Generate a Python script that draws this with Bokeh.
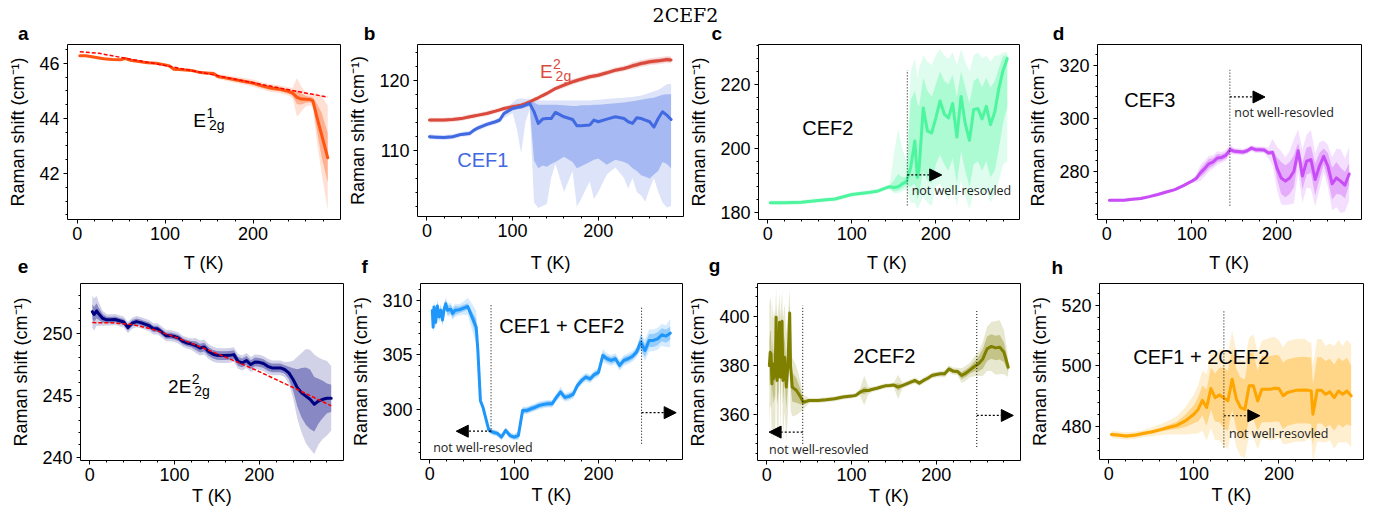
from bokeh.plotting import figure
from bokeh.layouts import column, row
from bokeh.models import Range1d, FixedTicker, Arrow, NormalHead
from bokeh.core.properties import value
from bokeh.embed import file_html
from bokeh.resources import INLINE

FONT = "Liberation Sans"
NOTE_FONT = "Open Sans"
TITLE_FONT = "DejaVu Serif"
NOTE = "not well-resovled"
YLABEL = "Raman shift (cm\u207b\u00b9)"
XLABEL = "T (K)"
TITLE = "2CEF2"

X_MAJOR = [0, 100, 200]
X_MINOR = [20, 40, 60, 80, 120, 140, 160, 180, 220, 240, 260, 280]

# ---------------- panel a : E1_2g ----------------
A_T = [3, 10, 20, 30, 40, 50, 55, 60, 70, 80, 90, 100, 105, 110, 120, 130, 140, 150, 155, 160,
       170, 180, 190, 200, 210, 220, 230, 240, 245, 250, 255, 260, 265, 268, 273, 278, 285]
A_Y = [46.27, 46.27, 46.22, 46.16, 46.14, 46.13, 46.17, 46.11, 46.06, 46.02, 46.00, 45.94, 45.90, 45.78,
       45.76, 45.74, 45.66, 45.64, 45.63, 45.52, 45.46, 45.40, 45.34, 45.28, 45.18, 45.10, 45.06, 44.98,
       44.92, 44.76, 44.70, 44.69, 44.68, 44.64, 44.01, 43.41, 42.57]
A_ERR_IN = [0.02, 0.02, 0.02, 0.02, 0.02, 0.02, 0.02, 0.02, 0.02, 0.02, 0.02, 0.02, 0.02, 0.03, 0.03,
            0.03, 0.03, 0.03, 0.04, 0.05, 0.05, 0.06, 0.06, 0.07, 0.07, 0.07, 0.08, 0.08, 0.10, 0.25,
            0.20, 0.12, 0.10, 0.12, 0.50, 0.80, 0.90]
A_ERR_OUT = [0.04, 0.04, 0.04, 0.04, 0.04, 0.04, 0.04, 0.04, 0.04, 0.04, 0.04, 0.04, 0.05, 0.05, 0.05,
             0.05, 0.05, 0.06, 0.07, 0.09, 0.10, 0.11, 0.12, 0.13, 0.13, 0.14, 0.14, 0.15, 0.18, 0.70,
             0.45, 0.25, 0.20, 0.25, 0.90, 1.40, 1.90]
A_FIT_T = [3, 25, 50, 100, 150, 200, 250, 285]
A_FIT_Y = [46.42, 46.36, 46.21, 45.92, 45.61, 45.29, 44.98, 44.77]

# ---------------- panel b : E2_2g and CEF1 ----------------
B_T = [3, 10, 20, 30, 40, 50, 55, 60, 70, 80, 85, 90, 100, 105, 110, 115, 120, 125, 130, 135, 140, 145,
       150, 160, 170, 175, 180, 190, 195, 200, 210, 220, 230, 235, 240, 245, 250, 255, 260, 265, 270,
       275, 280, 285]
B_E2G = [114.29, 114.29, 114.29, 114.38, 114.5, 114.76, 114.88, 115.0, 115.24, 115.57, 115.75, 115.95,
         116.19, 116.3, 116.43, 116.65, 116.9, 117.2, 117.48, 117.8, 118.1, 118.45, 118.8, 119.29, 119.76,
         119.95, 120.14, 120.48, 120.6, 120.71, 121.05, 121.43, 121.67, 121.85, 122.05, 122.2, 122.38,
         122.5, 122.62, 122.7, 122.76, 122.85, 122.95, 122.9]
B_E2G_ERR_IN = [0.2, 0.2, 0.2, 0.2, 0.2, 0.2, 0.2, 0.2, 0.2, 0.2, 0.2, 0.2, 0.2, 0.2, 0.2, 0.2, 0.2, 0.2,
                0.2, 0.2, 0.2, 0.2, 0.2, 0.25, 0.25, 0.25, 0.25, 0.25, 0.25, 0.25, 0.25, 0.25, 0.25,
                0.25, 0.3, 0.3, 0.3, 0.3, 0.3, 0.3, 0.3, 0.3, 0.3, 0.3]
B_E2G_ERR_OUT = [0.35, 0.35, 0.35, 0.35, 0.35, 0.35, 0.35, 0.35, 0.35, 0.35, 0.35, 0.35, 0.35, 0.35,
                 0.35, 0.35, 0.35, 0.35, 0.35, 0.35, 0.35, 0.35, 0.35, 0.4, 0.4, 0.4, 0.4, 0.4, 0.4,
                 0.4, 0.4, 0.4, 0.4, 0.4, 0.5, 0.5, 0.5, 0.5, 0.5, 0.5, 0.5, 0.5, 0.5, 0.5]
B_CEF1 = [111.9, 111.85, 111.8, 111.9, 112.24, 112.38, 112.86, 113.19, 113.67, 114.05, 114.3, 115.24,
          115.95, 116.1, 116.19, 116.43, 116.67, 115.5, 113.81, 114.43, 114.52, 114.5, 115.38, 114.76,
          114.38, 113.48, 113.48, 113.57, 114.29, 114.05, 114.43, 114.76, 114.52, 114.05, 113.81,
          114.62, 114.52, 114.29, 114.05, 113.29, 114.52, 115.48, 115.0, 114.38]
B_CEF1_IN_LO = [111.7, 111.65, 111.6, 111.7, 112.04, 112.18, 112.66, 112.99, 113.47, 113.85, 114.1,
                115.0, 115.7, 115.85, 115.9, 116.1, 116.3, 108.5, 107.4, 107.8, 107.6, 108.0, 108.3,
                109.05, 108.3, 107.4, 107.7, 108.3, 108.6, 108.8, 107.9, 108.6, 108.3, 108.0, 107.4,
                107.0, 106.4, 106.2, 105.95, 106.5, 107.0, 108.3, 108.0, 107.4]
B_CEF1_IN_HI = [112.1, 112.05, 112.0, 112.1, 112.44, 112.58, 113.06, 113.39, 113.87, 114.25, 114.5,
                115.5, 116.2, 116.35, 116.5, 116.75, 117.0, 116.8, 116.5, 116.5, 116.5, 116.5, 116.5,
                116.4, 116.3, 116.3, 116.4, 116.4, 116.5, 116.5, 116.6, 116.7, 116.8, 116.9, 117.0,
                117.1, 117.2, 117.3, 117.4, 117.5, 117.7, 117.9, 118.0, 118.0]
B_CEF1_OUT_LO = [111.55, 111.5, 111.45, 111.55, 111.9, 112.0, 112.5, 112.8, 113.3, 113.7, 113.9, 114.6,
                 115.3, 113.0, 109.5, 114.0, 115.8, 102.5, 101.7, 102.0, 102.3, 106.0, 108.0, 104.0,
                 107.0, 101.9, 103.0, 105.5, 103.0, 104.0, 106.5, 107.5, 106.0, 104.5, 106.0, 104.0,
                 103.5, 102.6, 104.5, 106.0, 104.0, 102.5, 101.8, 102.0]
B_CEF1_OUT_HI = [112.25, 112.2, 112.15, 112.25, 112.6, 112.75, 113.2, 113.55, 114.05, 114.4, 114.7,
                 115.7, 116.8, 117.3, 117.4, 117.3, 117.3, 117.2, 117.1, 117.1, 117.1, 117.1, 117.1,
                 117.1, 117.1, 117.1, 117.1, 117.1, 117.15, 117.2, 117.3, 117.4, 117.5, 117.55, 117.6,
                 117.7, 117.8, 118.0, 118.2, 118.4, 118.6, 119.0, 119.4, 119.5]

# ---------------- panel c : CEF2 ----------------
C_T = [3, 20, 40, 60, 80, 100, 120, 130, 140, 145, 150, 155, 160, 165, 170, 175, 178, 180, 185, 190,
       195, 200, 205, 210, 215, 220, 225, 230, 235, 240, 245, 250, 255, 260, 265, 270, 275, 280, 285]
C_Y = [183.0, 183.0, 183.2, 183.7, 184.2, 185.6, 186.2, 186.6, 187.6, 188.0, 187.8, 188.0, 188.9, 189.6,
       194.0, 202.3, 190.9, 193.5, 212.6, 205.4, 204.8, 209.5, 214.8, 210.7, 209.5, 214.0, 203.5, 216.2,
       207.6, 202.5, 212.1, 212.4, 209.2, 213.1, 207.4, 211.3, 218.8, 224.4, 228.0]
C_IN_LO = [182.6, 182.6, 182.8, 183.3, 183.8, 185.2, 185.8, 186.2, 187.2, 187.6, 186.5, 186.8, 187.5,
           188.5, 188, 189, 184, 186, 193, 190, 189, 195, 198, 195, 193, 197, 189, 199, 193, 188, 195,
           196, 193, 196, 191, 193, 200, 208, 213]
C_IN_HI = [183.4, 183.4, 183.6, 184.1, 184.6, 186.0, 186.6, 187.0, 188.0, 188.4, 190, 192, 191, 191,
           215, 218, 214, 213, 222, 218, 216, 220, 224, 221, 220, 223, 216, 224, 219, 214, 221, 222,
           219, 222, 219, 221, 225, 229, 229]
C_OUT_LO = [182.3, 182.3, 182.5, 183.0, 183.5, 184.9, 185.5, 185.9, 186.9, 187.3, 186.0, 186.0, 186.5,
            187.5, 183, 183, 181, 182, 185, 183, 182, 188, 189, 186, 184, 188, 182, 190, 185, 181, 186,
            188, 185, 187, 183, 186, 190, 195, 196]
C_OUT_HI = [183.7, 183.7, 183.9, 184.4, 184.9, 186.3, 186.9, 187.3, 188.3, 188.7, 198, 206, 200, 196,
            224, 228, 222, 225, 229, 227, 226, 229, 231, 229, 228, 230, 226, 231, 227, 224, 229, 230,
            228, 229, 227, 229, 229, 230, 230]

# ---------------- panel d : CEF3 ----------------
D_T = [3, 20, 30, 40, 50, 60, 70, 80, 90, 100, 105, 110, 115, 120, 125, 130, 135, 140, 145, 150, 160,
       165, 170, 175, 180, 185, 190, 195, 200, 205, 210, 215, 220, 225, 230, 235, 240, 245, 250, 255,
       260, 265, 270, 275, 280, 285]
D_Y = [269.2, 269.2, 269.6, 269.9, 270.6, 271.4, 272.3, 273.2, 274.7, 276.4, 277.4, 279.5, 281.1, 282.9,
       283.6, 285.1, 285.3, 286.1, 288.2, 287.6, 287.3, 287.8, 288.8, 288.2, 288.2, 288.1, 287.0, 287.2,
       281.4, 277.6, 276.4, 277.6, 280.1, 287.8, 278.3, 283.9, 284.5, 277.0, 282.0, 285.7, 282.0, 275.4,
       277.6, 276.4, 274.9, 279.1]
D_ERR_IN = [0.3, 0.3, 0.3, 0.3, 0.3, 0.3, 0.3, 0.3, 0.3, 0.3, 0.6, 1.5, 1.8, 1.8, 1.5, 1.5, 1.2, 1.2,
            1.0, 0.8, 0.8, 0.8, 0.8, 0.8, 0.8, 0.8, 0.8, 0.8, 4, 6, 6, 6, 6, 3, 5, 5, 5, 6, 5, 3, 5, 6,
            6, 5, 5, 4]
D_ERR_OUT = [0.6, 0.6, 0.6, 0.6, 0.6, 0.6, 0.6, 0.6, 0.6, 0.6, 1.5, 3, 3, 3, 2.5, 2.5, 2, 2, 1.8, 1.2,
             1.2, 1.2, 1.2, 1.2, 1.2, 1.2, 2, 5, 8, 10, 9, 10, 12, 8, 10, 10, 11, 10, 9, 6, 8, 10, 11,
             12, 10, 10]

# ---------------- panel e : 2E2_2g ----------------
E_T = [3, 5, 8, 10, 15, 20, 25, 30, 35, 40, 45, 50, 55, 60, 70, 75, 80, 85, 90, 95, 100, 105, 110,
       115, 120, 125, 130, 135, 140, 145, 150, 155, 160, 165, 170, 175, 180, 185, 190, 195, 200, 205,
       210, 215, 220, 225, 230, 235, 240, 245, 250, 255, 260, 265, 270, 275, 280, 285]
E_Y = [251.73, 251.5, 251.8, 251.6, 251.2, 251.07, 251.07, 251.1, 251.0, 250.9, 250.45, 250.8, 250.93,
       250.85, 250.6, 250.35, 250.35, 250.08, 249.8, 249.8, 249.73, 249.6, 249.33, 249.2, 249.12, 249.0,
       248.8, 248.88, 248.53, 248.32, 248.21, 248.19, 248.19, 248.21, 248.27, 247.73, 247.6, 247.8,
       247.47, 247.68, 247.65, 247.55, 247.33, 247.2, 247.2, 247.2, 247.07, 246.8, 246.27, 245.6, 245.2,
       244.93, 244.67, 244.27, 244.53, 244.67, 244.75, 244.75]
E_ERR_IN = [0.6, 0.6, 0.6, 0.5, 0.35,
            0.25, 0.25, 0.25, 0.25, 0.25, 0.25, 0.25, 0.25, 0.25, 0.25, 0.25, 0.25, 0.25, 0.25, 0.25,
            0.25, 0.25, 0.25, 0.25, 0.25,
            0.35, 0.35, 0.35, 0.35, 0.35, 0.35, 0.35, 0.35, 0.35, 0.35, 0.35, 0.35, 0.35, 0.35, 0.35,
            0.35, 0.35, 0.35, 0.35, 0.35, 0.35, 0.35,
            0.5, 0.9, 1.5, 2.0, 2.3, 2.4, 2.2, 1.8, 1.5, 1.2, 1.1]
E_ERR_OUT = [1.3, 1.3, 1.2, 1.0, 0.6,
             0.45, 0.45, 0.45, 0.45, 0.45, 0.45, 0.45, 0.45, 0.45, 0.45, 0.45, 0.45, 0.45, 0.45, 0.45,
             0.45, 0.45, 0.45, 0.45, 0.45,
             0.6, 0.6, 0.6, 0.6, 0.6, 0.6, 0.6, 0.6, 0.6, 0.6, 0.6, 0.6, 0.6, 0.6, 0.6, 0.6, 0.6, 0.6,
             0.6, 0.6, 0.6, 0.6,
             0.9, 1.5, 2.5, 3.2, 3.8, 4.0, 4.0, 3.5, 3.2, 3.0, 2.6]
E_FIT_T = [3, 25, 50, 75, 100, 125, 150, 175, 200, 225, 250, 285]
E_FIT_Y = [250.85, 250.84, 250.7, 250.3, 249.7, 249.05, 248.35, 247.65, 246.9, 246.1, 245.3, 244.15]

# ---------------- panel f : CEF1 + CEF2 ----------------
F_T = [3, 4, 5, 7, 9, 11, 13, 15, 17, 19, 21, 25, 27, 30, 35, 40, 45, 50, 55, 57, 60, 63, 67, 70, 75,
       80, 85, 90, 95, 100, 105, 110, 115, 120, 125, 130, 135, 140, 145, 150, 155, 160, 165, 170, 175,
       180, 185, 190, 195, 200, 205, 210, 215, 220, 225, 230, 235, 240, 245, 250, 255, 260, 265, 270,
       275, 280, 285]
F_Y = [309.08, 307.55, 309.4, 308.0, 309.5, 308.5, 309.1, 308.2, 309.2, 309.7, 309.1, 309.2, 308.8,
       309.1, 309.15, 309.3, 309.45, 308.5, 307.55, 305.4, 300.8, 300.2, 299.0, 298.1, 297.9, 297.8,
       297.46, 298.07, 297.6, 297.46, 297.6, 299.9, 299.9, 300.06, 300.2, 300.37, 300.46, 300.52,
       300.52, 301.1, 301.6, 301.1, 301.2, 301.4, 302.2, 302.66, 302.97, 302.8, 303.2, 303.4, 304.95,
       304.65, 304.5, 304.65, 304.04, 304.5, 304.65, 304.86, 305.26, 306.18, 305.41, 306.33, 306.33,
       306.48, 306.85, 306.73, 307.0]
F_ERR_IN = [0.4, 0.4, 0.4, 0.4, 0.4, 0.4, 0.4, 0.4, 0.4, 0.4, 0.4, 0.4, 0.4, 0.4,
            0.3, 0.3, 0.3, 0.5, 0.8, 0.5,
            0.2, 0.2, 0.2, 0.2, 0.2, 0.2, 0.2, 0.2, 0.2, 0.2, 0.3,
            0.25, 0.25, 0.25, 0.25, 0.25, 0.25, 0.25, 0.25, 0.25, 0.25, 0.25, 0.25, 0.25, 0.25, 0.25,
            0.25, 0.25, 0.25, 0.25,
            0.3, 0.3, 0.3, 0.3, 0.3, 0.3, 0.3, 0.3, 0.3,
            0.6, 0.6, 0.6, 0.6, 0.6, 0.6, 0.6, 0.6]
F_ERR_OUT = [0.6, 0.6, 0.6, 0.6, 0.6, 0.6, 0.6, 0.6, 0.6, 0.6, 0.6, 0.6, 0.6, 0.6,
             0.5, 0.6, 0.8, 1.2, 1.5, 0.8,
             0.3, 0.3, 0.3, 0.3, 0.3, 0.3, 0.3, 0.3, 0.3, 0.3, 0.4,
             0.35, 0.35, 0.35, 0.35, 0.35, 0.35, 0.35, 0.35, 0.35, 0.5,
             0.4, 0.4, 0.4, 0.4, 0.4, 0.4, 0.4, 0.4, 0.4,
             0.6, 0.5, 0.5, 0.5, 0.5, 0.5, 0.5, 0.5, 0.5,
             0.8, 1.0, 1.0, 1.0, 1.0, 1.0, 1.0, 1.3]

# ---------------- panel g : 2CEF2 ----------------
G_T = [3, 4, 5, 6, 7, 8, 10, 11, 12, 14, 15, 16, 18, 19, 21, 23, 25, 27, 28, 30, 35, 40, 43, 50, 60,
       70, 80, 90, 100, 105, 110, 115, 120, 125, 130, 135, 140, 145, 150, 155, 160, 165, 170, 175, 180,
       185, 190, 195, 200, 205, 210, 215, 220, 225, 230, 235, 240, 245, 250, 255, 260, 265, 270, 275,
       280, 285]
G_Y = [380.0, 385.4, 384.8, 372.5, 380.7, 374.6, 378.0, 399.7, 373.9, 379.3, 397.7, 375.2, 398.1, 373.9,
       383.4, 371.2, 380.7, 401.4, 380.0, 371.2, 369.8, 367.1, 365.0, 365.7, 365.7, 366.0, 366.4, 367.1,
       367.5, 367.8, 369.1, 369.8, 369.8, 370.3, 370.7, 371.2, 371.7, 371.8, 372.0, 371.2, 371.8, 372.5,
       373.2, 373.9, 372.8, 373.9, 374.8, 375.9, 376.3, 376.6, 376.6, 378.6, 377.7, 377.6, 375.9, 376.9,
       378.2, 379.6, 380.7, 382.7, 386.8, 387.8, 387.2, 387.5, 385.4, 379.3]
G_ERR_IN = [10, 9, 9, 10, 10, 10, 10, 5, 10, 10, 5, 10, 5, 10, 9, 9, 8, 4, 8,
            6, 5, 3, 1,
            0.5, 0.5, 0.5, 0.5, 0.5, 0.5, 0.5, 0.6, 1.5, 0.6,
            0.5, 0.5, 0.5, 0.5, 0.5, 0.5, 1.5,
            0.6, 0.6, 0.6, 0.6, 0.6, 0.6, 0.6, 0.6, 0.6, 0.6,
            0.8, 0.8, 0.8, 0.8,
            1.5, 1.5, 1.5, 2, 3, 4, 5, 5, 5, 5, 4, 2]
G_ERR_OUT = [25, 22, 22, 25, 25, 25, 25, 12, 25, 25, 12, 25, 12, 25, 22, 22, 20, 10, 18,
             12, 10, 6, 3,
             1.0, 1.0, 1.0, 1.0, 1.0, 1.0, 1.0, 1.5, 6, 1.5,
             1.0, 1.0, 1.0, 1.0, 1.0, 1.0, 5,
             1.2, 1.2, 1.2, 1.2, 1.2, 1.2, 1.2, 1.2, 1.2, 1.2,
             1.5, 1.5, 1.5, 1.5,
             3, 3, 3, 4, 5, 7, 9, 10, 11, 11, 9, 4]

# ---------------- panel h : CEF1 + 2CEF2 ----------------
H_T = [3, 10, 20, 30, 40, 50, 60, 70, 80, 90, 100, 105, 110, 115, 120, 125, 130, 135, 140, 145, 150,
       155, 160, 165, 170, 175, 180, 190, 195, 200, 205, 210, 220, 230, 235, 238, 240, 245, 250, 255,
       260, 265, 270, 275, 280, 285]
H_Y = [477.3, 477.1, 476.8, 477.0, 477.6, 478.1, 478.8, 479.6, 480.3, 481.8, 484.0, 485.6, 488.6, 486.2,
       492.5, 489.5, 490.4, 489.5, 488.4, 495.6, 489.0, 486.2, 485.6, 493.4, 493.4, 488.4, 492.3, 492.3,
       492.6, 492.5, 490.1, 491.2, 491.9, 492.0, 491.9, 491.7, 484.0, 491.9, 491.9, 490.6, 491.4, 489.5,
       491.7, 490.6, 491.7, 490.1]
H_ERR_IN = [0.6, 0.6, 0.6, 0.6, 0.6, 0.6, 0.6,
            0.8, 1.2, 2, 3, 4, 5, 6, 7, 8, 9, 10, 10, 10,
            10, 10, 10, 11, 11, 10, 11, 11, 11, 11, 11, 11, 11, 11, 11, 11, 10, 11, 11, 11, 11, 11, 11,
            11, 11, 10]
H_ERR_OUT = [1.2, 1.2, 1.2, 1.2, 1.2, 1.5, 1.8,
             2.2, 3, 4.5, 6.5, 8, 10, 11, 13, 14, 15, 16, 16, 16,
             16, 16, 16, 16, 17, 16, 16, 17, 17, 16, 16, 17, 17, 17, 16, 16, 16, 17, 17, 16, 16, 17,
             17, 16, 17, 17]

# ---------------- annotations (threshold temperatures, arrows) ----------------
C_VLINE = (166, 182.2, 224.4)
C_ARROW = (166, 207, 191.7)
D_VLINE = (144.7, 267.2, 318.2)
D_ARROW = (144.7, 186, 308.0)
F_VLINES = [(72.6, 297.9, 309.7), (251, 296.85, 309.4)]
F_ARROWS = [(72.6, 31.4, 298.0), (251, 292, 299.7)]
G_VLINES = [(42.4, 348.0, 404.5), (247.9, 346.7, 402.5)]
G_ARROWS = [(42.4, 2.7, 352.8), (247.9, 291, 359.6)]
H_VLINE = (135.3, 473.0, 518.3)
H_ARROW = (135.3, 177.6, 483.5)


def check(*arrs):
    n = len(arrs[0])
    for a in arrs:
        assert len(a) == n, (n, len(a))


check(A_T, A_Y, A_ERR_IN, A_ERR_OUT)
check(A_FIT_T, A_FIT_Y)
check(B_T, B_E2G, B_E2G_ERR_IN, B_E2G_ERR_OUT, B_CEF1, B_CEF1_IN_LO, B_CEF1_IN_HI, B_CEF1_OUT_LO, B_CEF1_OUT_HI)
check(C_T, C_Y, C_IN_LO, C_IN_HI, C_OUT_LO, C_OUT_HI)
check(D_T, D_Y, D_ERR_IN, D_ERR_OUT)
check(E_T, E_Y, E_ERR_IN, E_ERR_OUT)
check(E_FIT_T, E_FIT_Y)
check(F_T, F_Y, F_ERR_IN, F_ERR_OUT)
check(G_T, G_Y, G_ERR_IN, G_ERR_OUT)
check(H_T, H_Y, H_ERR_IN, H_ERR_OUT)

X_RANGE = (-11.0, 299.5)
TICK_PX = "18px"
LABEL_PX = "18px"
PAGE_W = 1371


def panel(w, h, bl, br, bt, bb, yr, ymaj, ymin, xlabel=True):
    p = figure(width=w, height=h, output_backend="svg", toolbar_location=None,
               x_range=Range1d(*X_RANGE), y_range=Range1d(*yr), frame_align=False,
               min_border_left=bl, min_border_right=br, min_border_top=bt, min_border_bottom=bb)
    p.xgrid.visible = False
    p.ygrid.visible = False
    p.outline_line_color = "black"
    p.outline_line_width = 1
    p.outline_line_alpha = 1.0
    p.background_fill_color = "white"
    p.border_fill_color = "white"
    p.xaxis.ticker = FixedTicker(ticks=X_MAJOR, minor_ticks=X_MINOR)
    p.yaxis.ticker = FixedTicker(ticks=ymaj, minor_ticks=ymin)
    if xlabel:
        p.xaxis.axis_label = XLABEL
    p.yaxis.axis_label = YLABEL
    for ax in (p.xaxis[0], p.yaxis[0]):
        ax.axis_line_color = None
        ax.major_tick_in = 0
        ax.major_tick_out = 4
        ax.minor_tick_in = 0
        ax.minor_tick_out = 2
        ax.major_tick_line_color = "black"
        ax.minor_tick_line_color = "black"
        ax.major_label_text_font = FONT
        ax.major_label_text_font_size = TICK_PX
        ax.major_label_text_color = "black"
        ax.axis_label_text_font = FONT
        ax.axis_label_text_font_size = LABEL_PX
        ax.axis_label_text_font_style = "normal"
        ax.axis_label_text_color = "black"
    p.xaxis.major_label_standoff = 3
    p.xaxis.axis_label_standoff = 2
    p.yaxis.major_label_standoff = 4
    p.yaxis.axis_label_standoff = 8
    return p


def strip(h):
    # a text-only band; its frame fills the whole canvas so one data unit is one pixel
    s = figure(width=PAGE_W, height=h, output_backend="svg", toolbar_location=None,
               x_axis_type=None, y_axis_type=None,
               x_range=Range1d(0, PAGE_W), y_range=Range1d(0, h), min_border=0, frame_align=False)
    s.xgrid.visible = False
    s.ygrid.visible = False
    s.outline_line_color = None
    s.background_fill_color = "white"
    s.border_fill_color = "white"
    return s


def stext(s, xs, ys, texts, size, bold=False, font=FONT, align="left"):
    # ys are the vertical middles of the texts
    s.text(x=xs, y=ys, text=texts, text_font=value(font), text_font_size=size,
           text_font_style="bold" if bold else "normal", text_color="black",
           text_baseline="middle", text_align=align)


def sym_bands(p, T, y, e_in, e_out, color):
    p.varea(x=T, y1=[v - e for v, e in zip(y, e_out)], y2=[v + e for v, e in zip(y, e_out)],
            fill_color=color, fill_alpha=0.18)
    p.varea(x=T, y1=[v - e for v, e in zip(y, e_in)], y2=[v + e for v, e in zip(y, e_in)],
            fill_color=color, fill_alpha=0.35)


def abs_bands(p, T, in_lo, in_hi, out_lo, out_hi, color):
    p.varea(x=T, y1=out_lo, y2=out_hi, fill_color=color, fill_alpha=0.18)
    p.varea(x=T, y1=in_lo, y2=in_hi, fill_color=color, fill_alpha=0.35)


def curve(p, T, y, color):
    p.line(T, y, line_color=color, line_width=3, line_join="round", line_cap="round")


def txt(p, x, y, s, size="20px", color="black", font=FONT):
    p.text(x=[x], y=[y], text=[s], text_font=value(font), text_font_size=size, text_color=color,
           text_align="left", text_baseline="alphabetic")


def mode_label(p, x, y, base, base_w, sup, sub, color="black"):
    txt(p, x, y, base, "19px", color)
    p.text(x=[x], y=[y], text=[sup], text_font=value(FONT), text_font_size="14px", text_color=color,
           text_align="left", text_baseline="alphabetic", x_offset=base_w + 0.5, y_offset=-7)
    p.text(x=[x], y=[y], text=[sub], text_font=value(FONT), text_font_size="14px", text_color=color,
           text_align="left", text_baseline="alphabetic", x_offset=base_w + 3, y_offset=4.5)


def vline(p, spec):
    t, y0, y1 = spec
    p.segment(x0=[t], y0=[y0], x1=[t], y1=[y1], line_color="black", line_width=1, line_dash="1 2")


def arrow(p, spec):
    t0, t1, yv = spec
    p.add_layout(Arrow(end=NormalHead(size=12, fill_color="black", line_color="black"),
                       x_start=t0, y_start=yv, x_end=t1, y_end=yv,
                       line_color="black", line_width=1.2, line_dash="2 2"))


def note(p, x, y):
    p.text(x=[x], y=[y], text=[NOTE], text_font=value(NOTE_FONT), text_font_size="12.5px",
           text_color="#222222", text_align="left", text_baseline="middle")


ROW1_H = 204
ROW2_H = 232

# ---- a
pa = panel(344, ROW1_H, 67, 4, 0, 29, (40.33, 46.68), [42, 44, 46],
           [40.5, 41, 41.5, 42.5, 43, 43.5, 44.5, 45, 45.5, 46.5], xlabel=False)
sym_bands(pa, A_T, A_Y, A_ERR_IN, A_ERR_OUT, "#ff5511")
curve(pa, A_T, A_Y, "#ff5511")
pa.line(A_FIT_T, A_FIT_Y, line_color="red", line_width=1.5, line_dash="4 2")
mode_label(pa, 132, 43.93, "E", 12.7, "1", "2g")

# ---- b
pb = panel(342, ROW1_H, 73, 3, 0, 32, (100.5, 125.1), [110, 120],
           [102, 104, 106, 108, 112, 114, 116, 118, 122, 124], xlabel=False)
RED = "#d94a3d"
BLUE = "#4169e1"
sym_bands(pb, B_T, B_E2G, B_E2G_ERR_IN, B_E2G_ERR_OUT, RED)
abs_bands(pb, B_T, B_CEF1_IN_LO, B_CEF1_IN_HI, B_CEF1_OUT_LO, B_CEF1_OUT_HI, BLUE)
curve(pb, B_T, B_E2G, RED)
curve(pb, B_T, B_CEF1, BLUE)
mode_label(pb, 131.9, 121.3, "E", 12.7, "2", "2g", RED)
txt(pb, 35.4, 108.57, "CEF1", "20px", BLUE)

# ---- c
pc = panel(337, ROW1_H, 68, 4, 0, 29, (177.8, 232.4), [180, 200, 220],
           [184, 188, 192, 196, 204, 208, 212, 216, 224, 228, 232], xlabel=False)
GREEN = "#4df59e"
abs_bands(pc, C_T, C_IN_LO, C_IN_HI, C_OUT_LO, C_OUT_HI, GREEN)
curve(pc, C_T, C_Y, GREEN)
vline(pc, C_VLINE)
arrow(pc, C_ARROW)
note(pc, 171.2, 186.8)
txt(pc, 41, 206.2, "CEF2")

# ---- d
pd = panel(348, ROW1_H, 74, 10, 0, 29, (262.0, 327.7), [280, 300, 320],
           [264, 268, 272, 276, 284, 288, 292, 296, 304, 308, 312, 316, 324], xlabel=False)
VIOLET = "#c84df7"
sym_bands(pd, D_T, D_Y, D_ERR_IN, D_ERR_OUT, VIOLET)
curve(pd, D_T, D_Y, VIOLET)
vline(pd, D_VLINE)
arrow(pd, D_ARROW)
note(pd, 149.8, 302.2)
txt(pd, 20.4, 306.9, "CEF3")

# ---- e
pe = panel(346, ROW2_H, 80, 3, 1, 54, (239.74, 254.0), [240, 245, 250],
           [241, 242, 243, 244, 246, 247, 248, 249, 251, 252, 253])
NAVY = "#000080"
sym_bands(pe, E_T, E_Y, E_ERR_IN, E_ERR_OUT, NAVY)
curve(pe, E_T, E_Y, NAVY)
pe.line(E_FIT_T, E_FIT_Y, line_color="red", line_width=1.5, line_dash="4 2")
mode_label(pe, 92.4, 245.74, "2E", 23.2, "2", "2g")

# ---- f
pf = panel(339, ROW2_H, 74, 3, 1, 55, (295.4, 311.56), [300, 305, 310],
           [296, 297, 298, 299, 301, 302, 303, 304, 306, 307, 308, 309, 311])
DBLUE = "#1e96fa"
sym_bands(pf, F_T, F_Y, F_ERR_IN, F_ERR_OUT, DBLUE)
curve(pf, F_T, F_Y, DBLUE)
for s in F_VLINES:
    vline(pf, s)
for s in F_ARROWS:
    arrow(pf, s)
note(pf, 4.0, 296.54)
txt(pf, 82.4, 307.7, "CEF1 + CEF2")

# ---- g
pg = panel(339, ROW2_H, 72, 4, 1, 54, (341.2, 413.5), [360, 380, 400],
           [344, 348, 352, 356, 364, 368, 372, 376, 384, 388, 392, 396, 404, 408, 412])
OLIVE = "#808000"
sym_bands(pg, G_T, G_Y, G_ERR_IN, G_ERR_OUT, OLIVE)
curve(pg, G_T, G_Y, OLIVE)
for s in G_VLINES:
    vline(pg, s)
for s in G_ARROWS:
    arrow(pg, s)
note(pg, 2.7, 345.6)
txt(pg, 102, 383.7, "2CEF2")

# ---- h
ph = panel(347, ROW2_H, 75, 8, 1, 55, (469.0, 527.3), [480, 500, 520],
           [472, 476, 484, 488, 492, 496, 504, 508, 512, 516, 524])
ORANGE = "#ffa500"
sym_bands(ph, H_T, H_Y, H_ERR_IN, H_ERR_OUT, ORANGE)
curve(ph, H_T, H_Y, ORANGE)
vline(ph, H_VLINE)
arrow(ph, H_ARROW)
note(ph, 141.2, 477.7)
txt(ph, 28.7, 503.0, "CEF1 + 2CEF2")

# ---- top strip (44 px): figure title and panel letters a-d
top = strip(44)
stext(top, [685], [29.6], [TITLE], "19px", font=TITLE_FONT, align="center")
stext(top, [17.6, 363.3, 711, 1052.3], [11.5, 11.5, 11.5, 11.5], ["a", "b", "c", "d"], "19px", bold=True)

# ---- middle strip (34 px): x-axis titles of the first row and panel letters e-h
mid = strip(34)
stext(mid, [203.3, 550.2, 886.5, 1228.7], [19.7, 19.7, 19.7, 19.7], [XLABEL] * 4, LABEL_PX, align="center")
stext(mid, [17.3, 361, 708.3, 1051], [15.6, 15.6, 16.6, 14.6], ["e", "f", "g", "h"], "19px", bold=True)

layout = column(top, row(pa, pb, pc, pd), mid, row(pe, pf, pg, ph))
open("out.html", "w").write(file_html(layout, INLINE))
